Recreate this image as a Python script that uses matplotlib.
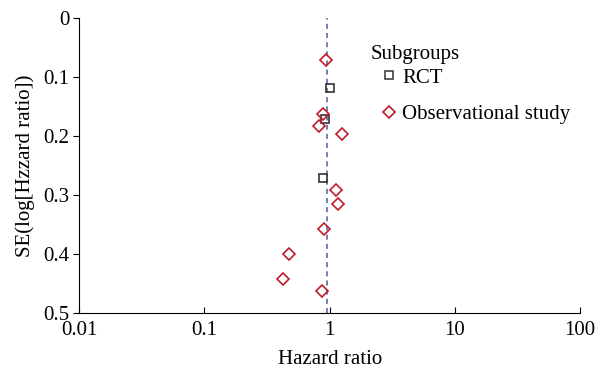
import numpy as np
from matplotlib import pyplot as plt
from matplotlib.lines import Line2D

plt.rcParams['font.family'] = ['Liberation Serif', 'DejaVu Serif']

# RCT subgroup
rct_hr = [1.0, 0.91, 0.89]
rct_se = [0.118, 0.171, 0.272]
# observational studies
obs_hr = [0.93, 0.89, 0.82, 1.26, 1.12, 1.17, 0.90, 0.475, 0.424, 0.87]
obs_se = [0.071, 0.163, 0.183, 0.197, 0.292, 0.315, 0.357, 0.400, 0.442, 0.463]
pooled = 0.95

xticks = [0.01, 0.1, 1, 10, 100]
xlabels = ['0.01', '0.1', '1', '10', '100']
yticks = [0, 0.1, 0.2, 0.3, 0.4, 0.5]
ylabels = ['0', '0.1', '0.2', '0.3', '0.4', '0.5']

red = '#c01a2c'
dark = '#333333'
fs = 15

fig = plt.figure(figsize=(5.95, 3.74), dpi=100)
ax = fig.add_axes([0.133, 0.163, 0.842, 0.789])

ax.axvline(pooled, color='#5b6aa6', ls=(0, (3, 2.5)), lw=1.2, zorder=1)
ax.plot(rct_hr, rct_se, 's', ms=5.8, mfc='none', mec=dark, mew=1.2, ls='none', zorder=3)
ax.plot(obs_hr, obs_se, 'D', ms=6.3, mfc='none', mec=red, mew=1.2, ls='none', zorder=3)

ax.set_xscale('log')
ax.set_xlim(0.01, 100)
ax.set_ylim(0.5, 0)
ax.set_xticks(xticks)
ax.set_xticklabels(xlabels)
ax.minorticks_off()
ax.set_yticks(yticks)
ax.set_yticklabels(ylabels)
ax.tick_params(axis='x', direction='in', length=4, pad=6, labelsize=fs)
ax.tick_params(axis='y', direction='out', length=4, pad=3, labelsize=fs)
ax.spines['top'].set_visible(False)
ax.spines['right'].set_visible(False)
ax.set_xlabel('Hazard ratio', fontsize=fs, labelpad=7)
ax.set_ylabel('SE(log[Hzzard ratio])', fontsize=fs, labelpad=6)

ax.text(0.581, 0.875, 'Subgroups', transform=ax.transAxes, fontsize=fs, va='center', ha='left')
handles = [Line2D([], [], marker='s', ms=5.8, mfc='none', mec=dark, mew=1.1, ls='none'),
           Line2D([], [], marker='D', ms=6.3, mfc='none', mec=red, mew=1.2, ls='none')]
ax.legend(handles, ['RCT', 'Observational study'],
          loc='upper left', bbox_to_anchor=(0.582, 0.865), frameon=False, borderpad=0,
          fontsize=fs, handlelength=0.8, handletextpad=0.2, labelspacing=0.8)

fig.savefig('out.png', dpi=100)
